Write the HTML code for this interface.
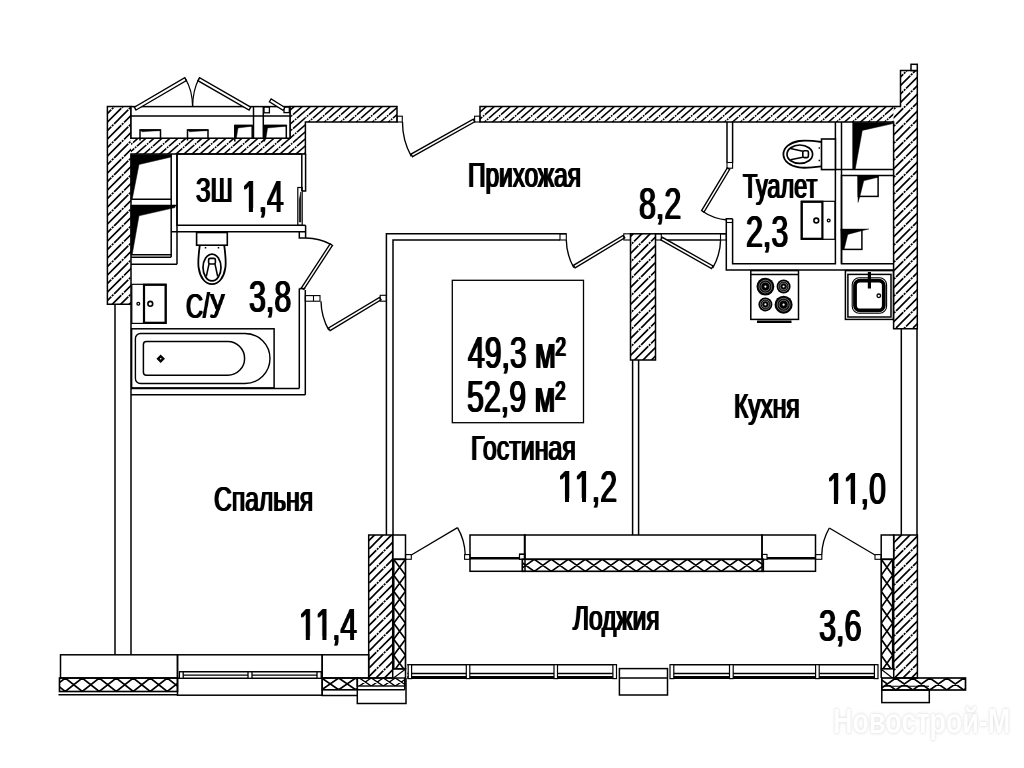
<!DOCTYPE html>
<html lang="ru"><head><meta charset="utf-8"><title>План квартиры</title>
<style>
html,body{margin:0;padding:0;background:#fff;}
body{width:1024px;height:768px;overflow:hidden;font-family:"Liberation Sans",sans-serif;}
svg{display:block}
svg text{font-family:"Liberation Sans",sans-serif;fill:#000;stroke:none}

.t{position:absolute;will-change:transform;transform-origin:0 0;line-height:1;white-space:nowrap;color:#000;}
.l{font-size:35.5px;text-shadow:1.2px 0 0 #000,-1.2px 0 0 #000;}
.n{font-size:44.5px;font-kerning:none;text-shadow:1.2px 0 0 #000,-1.2px 0 0 #000;}
.n i{position:absolute;top:0.735em;height:0.13em;width:0.187em;background:#fff;}
.wm{font-size:35.5px;font-weight:bold;color:#fff;text-shadow:0 0 2px #d8d8d8,0 0 4px #e6e6e6;}
</style></head><body><div id="plan" style="position:relative;width:1024px;height:768px;overflow:hidden">
<svg width="1024" height="768" viewBox="0 0 1024 768" stroke="#000" fill="none" stroke-linecap="butt" stroke-linejoin="miter">
<defs>
<pattern id="h" patternUnits="userSpaceOnUse" width="16" height="14">
<rect width="16" height="14" fill="#fff" stroke="none"/>
<path d="M-1,7.875 L9,-0.875 M-1,14.875 L17,-0.875 M7,14.875 L17,6.125 M-1,0.875 L1,-0.875 M15,14.875 L17,13.125" stroke="#000" stroke-width="1.6"/>
<path d="M2.26,5.02 L3.02,4.36 M4.26,3.27 L5.02,2.61 M6.26,8.52 L7.02,7.86 M8.26,6.77 L9.02,6.11" stroke="#fff" stroke-width="2.6"/>
</pattern>
<pattern id="h2" patternUnits="userSpaceOnUse" width="17" height="17">
<rect width="17" height="17" fill="#fff" stroke="none"/>
<path d="M-1,9.5 L9.5,-1 M-1,18 L18,-1 M7.5,18 L18,7.5 M-1,1 L1,-1 M16,18 L18,16" stroke="#000" stroke-width="1.6"/>
<path d="M2.25,6.25 L2.95,5.55 M4.35,4.15 L5.05,3.45 M9.25,7.75 L9.95,7.05 M11.35,5.65 L12.05,4.95" stroke="#fff" stroke-width="2.6"/>
</pattern>
</defs>
<rect width="1024" height="768" fill="#fff" stroke="none"/>
<rect x="107.4" y="106.6" width="23.60" height="197.70" fill="url(#h2)" stroke="none"/>
<rect x="131" y="138.2" width="174.40" height="15.80" fill="url(#h)" stroke="none"/>
<rect x="290" y="106.6" width="15.40" height="31.60" fill="url(#h)" stroke="none"/>
<rect x="305.4" y="106.6" width="91.60" height="15.40" fill="url(#h)" stroke="none"/>
<rect x="480" y="106.6" width="413.60" height="15.40" fill="url(#h)" stroke="none"/>
<polygon points="893.6,106.6 900.5,106.6 900.5,70.5 917.3,70.5 917.3,328.8 893.6,328.8" fill="url(#h2)" stroke="none"/>
<polygon points="107.4,106.6 131,106.6 131,138.2 290,138.2 290,106.6 397,106.6 397,122 305.4,122 305.4,154 131,154 131,304.3 107.4,304.3" fill="none" stroke-width="1.5" />
<polygon points="480,106.6 900.5,106.6 900.5,70.5 917.3,70.5 917.3,328.8 893.6,328.8 893.6,122 480,122" fill="none" stroke-width="1.5" />
<rect x="630.5" y="233.8" width="25.00" height="126.20" fill="url(#h2)" stroke-width="1.5" />
<rect x="368.7" y="535" width="24.00" height="143.00" fill="url(#h2)" stroke-width="1.5" />
<rect x="893.7" y="535" width="23.70" height="143.00" fill="url(#h2)" stroke-width="1.5" />
<rect x="911" y="64.3" width="6.30" height="6.20" fill="#fff" stroke-width="1.5" />
<rect x="131" y="106.6" width="159.00" height="31.60" fill="#fff" stroke-width="1.5" />
<line x1="131" y1="116" x2="290" y2="116" stroke-width="1.5" />
<line x1="253.5" y1="107" x2="253.5" y2="138.2" stroke-width="1.5" />
<line x1="263.3" y1="107" x2="263.3" y2="138.2" stroke-width="1.5" />
<polyline points="140,140.5 140,130 160.5,130 160.5,138.2" fill="none" stroke-width="1.5" />
<polygon points="140,129.6 160.5,129.6 160.5,130.6 142,131.8" fill="#000" stroke-width="0.4" />
<polyline points="187.5,140.5 187.5,130 208,130 208,138.2" fill="none" stroke-width="1.5" />
<polygon points="187.5,129.6 208,129.6 208,130.6 189.5,131.8" fill="#000" stroke-width="0.4" />
<polyline points="234.8,141.5 234.8,125.5 252.2,125.5 252.2,138.2" fill="none" stroke-width="1.5" />
<polygon points="234.8,125 252.2,125 252.2,126.2 238.0,128 236.4,138 234.8,138" fill="#000" stroke-width="0.4" />
<polyline points="264.4,141.5 264.4,125.5 286.3,125.5 286.3,138.2" fill="none" stroke-width="1.5" />
<polygon points="264.4,125 286.3,125 286.3,126.2 267.59999999999997,128 266.0,138 264.4,138" fill="#000" stroke-width="0.4" />
<rect x="264" y="107" width="5.40" height="5.80" fill="none" stroke-width="1.3" />
<rect x="284" y="107" width="5.30" height="5.60" fill="none" stroke-width="1.3" />
<polygon points="136.03,110.03 186.43,80.63 184.77,77.77 134.37,107.17" fill="#fff" stroke-width="1.35" />
<polygon points="250.72,107.17 199.52,77.77 197.88,80.63 249.08,110.03" fill="#fff" stroke-width="1.35" />
<path d="M185.3,78.6 Q192.5,90 192.6,107" fill="none" stroke-width="1.2" />
<path d="M199,78.6 Q192.8,90 192.6,107" fill="none" stroke-width="1.2" />
<polygon points="284.88,107.5 271.18,98.9 269.42,101.7 283.12,110.3" fill="#fff" stroke-width="1.35" />
<line x1="171.2" y1="154" x2="171.2" y2="257" stroke-width="1.5" />
<line x1="177" y1="154" x2="177" y2="264.3" stroke-width="1.5" />
<polygon points="130.8,154.6 171.2,154.6 171.2,157 139,164.5 132.2,199.2 130.8,199.2" fill="#000" stroke-width="0.5" />
<line x1="131" y1="199.3" x2="171.2" y2="199.3" stroke-width="1.5" />
<line x1="131" y1="205.6" x2="177" y2="205.6" stroke-width="1.5" />
<polygon points="130.8,205.6 175,205.6 175,207.6 139,215.8 132.2,254.5 130.8,254.5" fill="#000" stroke-width="0.5" />
<line x1="131" y1="254.7" x2="171.2" y2="254.7" stroke-width="1.5" />
<line x1="131" y1="257.2" x2="171.2" y2="257.2" stroke-width="1.5" />
<line x1="131" y1="264.3" x2="177" y2="264.3" stroke-width="1.5" />
<polyline points="301.8,190.9 301.8,154 177,154 177,225.3 297.8,225.3" fill="none" stroke-width="1.5" />
<polyline points="305.6,154 305.6,190.9 301.8,190.9" fill="none" stroke-width="1.5" />
<line x1="171.2" y1="231.8" x2="305.6" y2="231.8" stroke-width="1.5" />
<line x1="297.8" y1="225.3" x2="305.6" y2="225.3" stroke-width="1.5" />
<line x1="305.6" y1="225.3" x2="305.6" y2="238" stroke-width="1.5" />
<rect x="297.8" y="187.5" width="4.40" height="37.80" fill="none" stroke-width="1.2" />
<polygon points="300.8,192 299.3,200 299.3,222 300.8,222" fill="#000" stroke-width="0.6" />
<polyline points="299.3,231.8 299.3,238 305.6,238" fill="none" stroke-width="1.5" />
<path d="M305.2,238 A52,52 0 0 1 331.3,244.6" fill="none" stroke-width="1.35" />
<polygon points="303.77,289.36 332.47,245.36 330.13,243.84 301.43,287.84" fill="#fff" stroke-width="1.35" />
<line x1="299.3" y1="288.6" x2="299.3" y2="388.4" stroke-width="1.5" />
<line x1="305.3" y1="290" x2="305.3" y2="394.8" stroke-width="1.5" />
<line x1="299.3" y1="288.6" x2="305.3" y2="288.6" stroke-width="1.5" />
<line x1="131" y1="388.4" x2="299.3" y2="388.4" stroke-width="1.5" />
<line x1="131" y1="394.8" x2="305.3" y2="394.8" stroke-width="1.5" />
<line x1="115" y1="304.3" x2="115" y2="654.8" stroke-width="1.5" />
<line x1="131" y1="304.3" x2="131" y2="654.8" stroke-width="1.5" />
<rect x="196.6" y="232.5" width="30.70" height="12.70" fill="#fff" stroke-width="1.6" />
<path d="M199.8,245.2 C198.5,255 197.6,262 198.7,268 C200,277 205,284.2 212,284.2 C219,284.2 224,277 225.3,268 C226.4,262 225.5,255 224.2,245.2" fill="none" stroke-width="1.8" />
<ellipse cx="212" cy="267.5" rx="9" ry="13.4" fill="none" stroke-width="1.7"/>
<rect x="208.6" y="258.4" width="6.80" height="5.60" fill="none" stroke-width="1.6" rx="1.5"/>
<polyline points="209,264 206.3,276.5" fill="none" stroke-width="1.5" />
<polyline points="215,264 217.7,276.5" fill="none" stroke-width="1.5" />
<line x1="205.5" y1="247" x2="205.5" y2="248.5" stroke-width="1.5" />
<line x1="218.5" y1="247" x2="218.5" y2="248.5" stroke-width="1.5" />
<rect x="131.8" y="284.3" width="34.20" height="39.10" fill="none" stroke-width="1.2" />
<rect x="144" y="284.8" width="21.60" height="38.00" fill="none" stroke-width="2.2" />
<circle cx="150.3" cy="303.8" r="2.4" fill="none" stroke-width="1.6"/>
<circle cx="138.3" cy="303.8" r="1.4" fill="none" stroke-width="1.3"/>
<rect x="131.6" y="328.8" width="142.50" height="59.10" fill="none" stroke-width="1.5" />
<path d="M140.4,333.5 H245 A25,25 0 0 1 245,383.5 H140.4 A5,5 0 0 1 135.4,378.5 V338.5 A5,5 0 0 1 140.4,333.5 Z" fill="none" stroke-width="1.4" />
<path d="M146.4,341.6 H227.8 A16.8,16.8 0 0 1 227.8,375.2 H146.4 A3,3 0 0 1 143.4,372.2 V344.6 A3,3 0 0 1 146.4,341.6 Z" fill="none" stroke-width="1.5" />
<polygon points="160.7,355.3 164.2,358.8 160.7,362.3 157.2,358.8" fill="#000" stroke-width="1.1" />
<circle cx="160.7" cy="358.8" r="0.8" fill="#fff" stroke-width="0"/>
<rect x="397" y="116.2" width="5.30" height="5.80" fill="none" stroke-width="1.1" />
<rect x="474.6" y="116.2" width="5.40" height="5.80" fill="none" stroke-width="1.1" />
<path d="M402.5,122 A70,70 0 0 0 411.3,156.3" fill="none" stroke-width="1.35" />
<polygon points="412.53,156.71 474.73,121.81 473.27,119.19 411.07,154.09" fill="#fff" stroke-width="1.35" />
<rect x="305.3" y="295.6" width="14.70" height="5.60" fill="none" stroke-width="1.1" />
<line x1="313.5" y1="295.6" x2="313.5" y2="301.2" stroke-width="1.1" />
<path d="M321,301.2 A62,62 0 0 0 328.8,330.2" fill="none" stroke-width="1.35" />
<polygon points="330.07,330.59 381.07,299.89 379.53,297.31 328.53,328.01" fill="#fff" stroke-width="1.35" />
<rect x="380.2" y="295.3" width="6.20" height="5.90" fill="none" stroke-width="1.1" />
<polyline points="386.4,535 386.4,233.8 566.3,233.8" fill="none" stroke-width="1.5" />
<polyline points="393,535 393,240 560,240" fill="none" stroke-width="1.5" />
<rect x="560" y="233.8" width="6.30" height="6.20" fill="none" stroke-width="1.1" />
<path d="M566.3,240 A58,58 0 0 0 573.8,267.6" fill="none" stroke-width="1.35" />
<polygon points="575.08,267.88 624.78,237.88 623.22,235.32 573.52,265.32" fill="#fff" stroke-width="1.35" />
<rect x="623.8" y="233.8" width="6.70" height="6.20" fill="none" stroke-width="1.1" />
<line x1="632.6" y1="360" x2="632.6" y2="535" stroke-width="1.5" />
<line x1="638.6" y1="360" x2="638.6" y2="535" stroke-width="1.5" />
<rect x="452.3" y="280.3" width="131.20" height="142.40" fill="none" stroke-width="1.3" />
<rect x="655.5" y="233.8" width="5.80" height="6.20" fill="none" stroke-width="1.1" />
<line x1="655.5" y1="233.8" x2="726.3" y2="233.8" stroke-width="1.5" />
<line x1="661.3" y1="240" x2="720.5" y2="240" stroke-width="1.5" />
<polygon points="660.76,239.91 711.56,268.51 713.04,265.89 662.24,237.29" fill="#fff" stroke-width="1.35" />
<path d="M712.8,267.8 A58,58 0 0 0 720.6,240" fill="none" stroke-width="1.35" />
<rect x="720.5" y="233.8" width="5.80" height="6.20" fill="none" stroke-width="1.1" />
<line x1="727" y1="122" x2="727" y2="162.5" stroke-width="1.5" />
<line x1="732.6" y1="122" x2="732.6" y2="162.5" stroke-width="1.5" />
<rect x="727" y="162.5" width="5.60" height="5.70" fill="none" stroke-width="1.1" />
<polygon points="727.3,167.88 701.6,210.58 704.0,212.02 729.7,169.32" fill="#fff" stroke-width="1.35" />
<path d="M702.5,211.3 A50,50 0 0 0 727,220" fill="none" stroke-width="1.35" />
<polyline points="726.3,233.8 726.3,218.8 732.6,218.8" fill="none" stroke-width="1.5" />
<line x1="726.3" y1="222.5" x2="732.6" y2="222.5" stroke-width="1.1" />
<polyline points="732.6,218.8 732.6,263.8 835.4,263.8 835.4,122" fill="none" stroke-width="1.5" />
<polyline points="726.3,233.8 726.3,270 893.6,270" fill="none" stroke-width="1.5" />
<line x1="841.5" y1="122" x2="841.5" y2="263.8" stroke-width="1.5" />
<line x1="853.2" y1="122" x2="853.2" y2="169.6" stroke-width="1.5" />
<polygon points="853.2,122.4 892.8,122.4 892.8,123.6 862.3,130.4 855.2,169.2 853.2,169.2" fill="#000" stroke-width="0.5" />
<line x1="835.4" y1="169.6" x2="893.6" y2="169.6" stroke-width="1.5" />
<polyline points="893.6,175.5 841.5,175.5 841.5,263.8 893.6,263.8" fill="none" stroke-width="1.5" />
<rect x="858.3" y="176.6" width="19.80" height="19.80" fill="none" stroke-width="1.5" />
<polygon points="857.8,176.0 878.0999999999999,176.0 878.0999999999999,177.2 863.8,180.79999999999998 859.9,196.4 858.0,202.4" fill="#000" stroke-width="0.4" />
<rect x="842.3" y="229.8" width="19.60" height="19.60" fill="none" stroke-width="1.5" />
<polygon points="840.8,229.0 868.9,229.0 861.9,230.70000000000002 847.8,234.4 844.0999999999999,249.4 841.8,249.4" fill="#000" stroke-width="0.4" />
<rect x="821.5" y="139" width="13.90" height="30.60" fill="#fff" stroke-width="1.6" />
<path d="M821.5,142 C812,140.6 805,140 799,141 C790,142.5 783.4,147.5 783.4,154.2 C783.4,161 790,166 799,167.4 C805,168.3 812,167.6 821.5,166.4" fill="none" stroke-width="1.8" />
<ellipse cx="799.8" cy="154.2" rx="12.8" ry="9.2" fill="none" stroke-width="1.7"/>
<rect x="802.8" y="150.8" width="5.60" height="6.80" fill="none" stroke-width="1.6" rx="1.5"/>
<polyline points="802.8,151.2 790.5,148.6" fill="none" stroke-width="1.5" />
<polyline points="802.8,157.2 790.5,159.8" fill="none" stroke-width="1.5" />
<line x1="818.6" y1="148" x2="820" y2="148" stroke-width="1.5" />
<line x1="818.6" y1="160.5" x2="820" y2="160.5" stroke-width="1.5" />
<rect x="801.3" y="201.3" width="33.70" height="38.00" fill="none" stroke-width="1.2" />
<rect x="801.8" y="201.8" width="20.60" height="37.00" fill="none" stroke-width="2.2" />
<circle cx="816.3" cy="220.5" r="2.4" fill="none" stroke-width="1.6"/>
<circle cx="828.7" cy="220.5" r="1.4" fill="none" stroke-width="1.3"/>
<rect x="750.8" y="270.6" width="47.70" height="48.80" fill="#fff" stroke-width="1.5" />
<line x1="750.8" y1="274.6" x2="798.5" y2="274.6" stroke-width="1.5" />
<line x1="757" y1="321.8" x2="791.5" y2="321.8" stroke-width="2.4" />
<circle cx="765.4" cy="286.6" r="8.9" fill="#000" stroke-width="0"/>
<circle cx="765.4" cy="286.6" r="6.41" fill="none" stroke="#fff" stroke-width="0.42"/>
<circle cx="765.4" cy="286.6" r="4.45" fill="none" stroke="#fff" stroke-width="0.42"/>
<circle cx="765.4" cy="286.6" r="1.1" fill="#fff" stroke="none"/>
<circle cx="783.6" cy="286.5" r="7" fill="#000" stroke-width="0"/>
<circle cx="783.6" cy="286.5" r="5.04" fill="none" stroke="#fff" stroke-width="0.42"/>
<circle cx="783.6" cy="286.5" r="3.50" fill="none" stroke="#fff" stroke-width="0.42"/>
<circle cx="783.6" cy="286.5" r="1.1" fill="#fff" stroke="none"/>
<circle cx="765.4" cy="304.4" r="7" fill="#000" stroke-width="0"/>
<circle cx="765.4" cy="304.4" r="5.04" fill="none" stroke="#fff" stroke-width="0.42"/>
<circle cx="765.4" cy="304.4" r="3.50" fill="none" stroke="#fff" stroke-width="0.42"/>
<circle cx="765.4" cy="304.4" r="1.1" fill="#fff" stroke="none"/>
<circle cx="783.6" cy="304.7" r="9" fill="#000" stroke-width="0"/>
<circle cx="783.6" cy="304.7" r="6.48" fill="none" stroke="#fff" stroke-width="0.42"/>
<circle cx="783.6" cy="304.7" r="4.50" fill="none" stroke="#fff" stroke-width="0.42"/>
<circle cx="783.6" cy="304.7" r="1.1" fill="#fff" stroke="none"/>
<rect x="845.4" y="270.6" width="48.00" height="48.80" fill="#fff" stroke-width="1.5" />
<rect x="847.9" y="274.4" width="43.10" height="42.60" fill="none" stroke-width="1.5" />
<rect x="852.2" y="277.8" width="34.40" height="35.40" fill="none" stroke-width="1.1" rx="7"/>
<rect x="855" y="280.6" width="28.80" height="29.80" fill="none" stroke-width="3.8" rx="5"/>
<line x1="869.4" y1="272" x2="869.4" y2="288.5" stroke-width="3.2" />
<circle cx="878.8" cy="295.8" r="1.8" fill="none" stroke-width="1.3"/>
<line x1="901.3" y1="328.8" x2="901.3" y2="535" stroke-width="1.5" />
<line x1="917" y1="328.8" x2="917" y2="535" stroke-width="1.5" />
<rect x="392.7" y="535" width="12.80" height="24.30" fill="none" stroke-width="1.5" />
<clipPath id="c156"><rect x="393.7" y="559.3" width="11.80" height="109.50"/></clipPath>
<g clip-path="url(#c156)">
<path d="M393.7,559.30 L405.5,575.30 M405.5,559.30 L393.7,575.30 M393.7,575.30 L405.5,591.30 M405.5,575.30 L393.7,591.30 M393.7,591.30 L405.5,607.30 M405.5,591.30 L393.7,607.30 M393.7,607.30 L405.5,623.30 M405.5,607.30 L393.7,623.30 M393.7,623.30 L405.5,639.30 M405.5,623.30 L393.7,639.30 M393.7,639.30 L405.5,655.30 M405.5,639.30 L393.7,655.30 M393.7,655.30 L405.5,671.30 M405.5,655.30 L393.7,671.30 " fill="none" stroke-width="1.65" />
</g>
<rect x="393.7" y="559.3" width="11.80" height="109.50" fill="none" stroke-width="1.65" />
<rect x="405.5" y="554.6" width="5.80" height="4.70" fill="none" stroke-width="1.1" />
<line x1="411.3" y1="555" x2="457.5" y2="527.6" stroke-width="1.3" />
<path d="M457.5,527.6 A56,56 0 0 1 465.2,554.6" fill="none" stroke-width="1.35" />
<rect x="464.6" y="554.6" width="5.40" height="4.70" fill="none" stroke-width="1.1" />
<rect x="470" y="535" width="55.00" height="36.30" fill="none" stroke-width="1.5" />
<line x1="470" y1="558.2" x2="520" y2="558.2" stroke-width="2.4" />
<rect x="519.5" y="554" width="5.50" height="5.30" fill="none" stroke-width="1.1" />
<rect x="524.5" y="535" width="237.50" height="24.30" fill="none" stroke-width="1.5" />
<clipPath id="c169"><rect x="522.3" y="559.3" width="241.00" height="12.00"/></clipPath>
<g clip-path="url(#c169)">
<path d="M517.30,559.3 L534.30,571.3 M517.30,571.3 L534.30,559.3 M534.30,559.3 L551.30,571.3 M534.30,571.3 L551.30,559.3 M551.30,559.3 L568.30,571.3 M551.30,571.3 L568.30,559.3 M568.30,559.3 L585.30,571.3 M568.30,571.3 L585.30,559.3 M585.30,559.3 L602.30,571.3 M585.30,571.3 L602.30,559.3 M602.30,559.3 L619.30,571.3 M602.30,571.3 L619.30,559.3 M619.30,559.3 L636.30,571.3 M619.30,571.3 L636.30,559.3 M636.30,559.3 L653.30,571.3 M636.30,571.3 L653.30,559.3 M653.30,559.3 L670.30,571.3 M653.30,571.3 L670.30,559.3 M670.30,559.3 L687.30,571.3 M670.30,571.3 L687.30,559.3 M687.30,559.3 L704.30,571.3 M687.30,571.3 L704.30,559.3 M704.30,559.3 L721.30,571.3 M704.30,571.3 L721.30,559.3 M721.30,559.3 L738.30,571.3 M721.30,571.3 L738.30,559.3 M738.30,559.3 L755.30,571.3 M738.30,571.3 L755.30,559.3 M755.30,559.3 L772.30,571.3 M755.30,571.3 L772.30,559.3 " fill="none" stroke-width="1.65" />
</g>
<rect x="522.3" y="559.3" width="241.00" height="12.00" fill="none" stroke-width="1.65" />
<rect x="519.5" y="554.4" width="5.00" height="4.90" fill="none" stroke-width="1.1" />
<rect x="762" y="554.4" width="5.00" height="4.90" fill="none" stroke-width="1.1" />
<rect x="762" y="535" width="53.50" height="36.30" fill="none" stroke-width="1.5" />
<line x1="767" y1="558.2" x2="815.5" y2="558.2" stroke-width="2.4" />
<rect x="815.5" y="554.6" width="6.30" height="4.70" fill="none" stroke-width="1.1" />
<path d="M829.3,528 A56,56 0 0 0 821.8,554.6" fill="none" stroke-width="1.35" />
<line x1="875" y1="555" x2="829.3" y2="528" stroke-width="1.3" />
<rect x="875" y="554.6" width="6.20" height="4.70" fill="none" stroke-width="1.1" />
<rect x="881.2" y="535" width="12.50" height="24.30" fill="none" stroke-width="1.5" />
<clipPath id="c183"><rect x="881.2" y="559.3" width="11.50" height="109.50"/></clipPath>
<g clip-path="url(#c183)">
<path d="M881.2,559.30 L892.7,575.30 M892.7,559.30 L881.2,575.30 M881.2,575.30 L892.7,591.30 M892.7,575.30 L881.2,591.30 M881.2,591.30 L892.7,607.30 M892.7,591.30 L881.2,607.30 M881.2,607.30 L892.7,623.30 M892.7,607.30 L881.2,623.30 M881.2,623.30 L892.7,639.30 M892.7,623.30 L881.2,639.30 M881.2,639.30 L892.7,655.30 M892.7,639.30 L881.2,655.30 M881.2,655.30 L892.7,671.30 M892.7,655.30 L881.2,671.30 " fill="none" stroke-width="1.65" />
</g>
<rect x="881.2" y="559.3" width="11.50" height="109.50" fill="none" stroke-width="1.65" />
<rect x="60.5" y="654.8" width="117.00" height="23.20" fill="none" stroke-width="1.5" />
<clipPath id="c189"><rect x="59.5" y="678" width="118.00" height="13.50"/></clipPath>
<g clip-path="url(#c189)">
<path d="M48.25,678 L65.25,691.5 M48.25,691.5 L65.25,678 M65.25,678 L82.25,691.5 M65.25,691.5 L82.25,678 M82.25,678 L99.25,691.5 M82.25,691.5 L99.25,678 M99.25,678 L116.25,691.5 M99.25,691.5 L116.25,678 M116.25,678 L133.25,691.5 M116.25,691.5 L133.25,678 M133.25,678 L150.25,691.5 M133.25,691.5 L150.25,678 M150.25,678 L167.25,691.5 M150.25,691.5 L167.25,678 M167.25,678 L184.25,691.5 M167.25,691.5 L184.25,678 " fill="none" stroke-width="1.65" />
</g>
<rect x="59.5" y="678" width="118.00" height="13.50" fill="none" stroke-width="1.65" />
<line x1="58.5" y1="694.8" x2="177.5" y2="694.8" stroke-width="1.5" />
<rect x="177.5" y="654.8" width="144.70" height="40.40" fill="none" stroke-width="1.5" />
<line x1="179" y1="671.8" x2="322.2" y2="671.8" stroke-width="1.5" />
<line x1="180" y1="675.2" x2="319" y2="675.2" stroke-width="1.2" />
<line x1="177.5" y1="678.3" x2="322.2" y2="678.3" stroke-width="1.5" />
<rect x="179.4" y="671.8" width="3.80" height="6.50" fill="#fff" stroke-width="1.3" />
<rect x="248" y="671.8" width="4.00" height="6.50" fill="#fff" stroke-width="1.3" />
<rect x="317" y="671.8" width="4.20" height="6.50" fill="#fff" stroke-width="1.3" />
<rect x="322.2" y="654.8" width="46.50" height="23.20" fill="none" stroke-width="1.5" />
<clipPath id="c203"><rect x="322.2" y="678" width="35.10" height="11.80"/></clipPath>
<g clip-path="url(#c203)">
<path d="M321.70,678 L338.70,689.8 M321.70,689.8 L338.70,678 M338.70,678 L355.70,689.8 M338.70,689.8 L355.70,678 M355.70,678 L372.70,689.8 M355.70,689.8 L372.70,678 " fill="none" stroke-width="1.65" />
</g>
<rect x="322.2" y="678" width="35.10" height="11.80" fill="none" stroke-width="1.65" />
<clipPath id="c208"><rect x="357.3" y="678" width="47.50" height="8.00"/></clipPath>
<g clip-path="url(#c208)">
<path d="M359.30,678 L371.30,686 M359.30,686 L371.30,678 M371.30,678 L383.30,686 M371.30,686 L383.30,678 M383.30,678 L395.30,686 M383.30,686 L395.30,678 M395.30,678 L407.30,686 M395.30,686 L407.30,678 " fill="none" stroke-width="1.4" />
</g>
<rect x="357.3" y="678" width="47.50" height="8.00" fill="none" stroke-width="1.4" />
<line x1="357.3" y1="689.8" x2="404.8" y2="689.8" stroke-width="1.5" />
<line x1="404.8" y1="678" x2="404.8" y2="689.8" stroke-width="1.5" />
<polyline points="322.2,689.8 322.2,695.4 357.3,695.4 357.3,703.6 406,703.6 406,678" fill="none" stroke-width="1.5" />
<line x1="357.3" y1="689.8" x2="357.3" y2="695.4" stroke-width="1.5" />
<polyline points="392.7,668.8 405.5,668.8 405.5,678" fill="none" stroke-width="1.5" />
<line x1="393.5" y1="678" x2="405" y2="669.5" stroke-width="1.1" />
<line x1="407.3" y1="664.7" x2="616.5" y2="664.7" stroke-width="1.5" />
<line x1="407.3" y1="673.5" x2="616.5" y2="673.5" stroke-width="1.4" />
<line x1="407.3" y1="677.4" x2="616.5" y2="677.4" stroke-width="3" />
<rect x="408.2" y="664.7" width="3.40" height="13.90" fill="#fff" stroke-width="1.2" />
<rect x="466.3" y="664.7" width="3.50" height="13.90" fill="#fff" stroke-width="1.2" />
<rect x="554" y="664.7" width="3.50" height="13.90" fill="#fff" stroke-width="1.2" />
<rect x="612.9" y="664.7" width="3.60" height="13.90" fill="#fff" stroke-width="1.2" />
<line x1="670" y1="664.7" x2="878" y2="664.7" stroke-width="1.5" />
<line x1="670" y1="673.5" x2="878" y2="673.5" stroke-width="1.4" />
<line x1="670" y1="677.4" x2="878" y2="677.4" stroke-width="3" />
<rect x="670" y="664.7" width="3.80" height="13.90" fill="#fff" stroke-width="1.2" />
<rect x="729.5" y="664.7" width="3.70" height="13.90" fill="#fff" stroke-width="1.2" />
<rect x="815.6" y="664.7" width="3.60" height="13.90" fill="#fff" stroke-width="1.2" />
<rect x="874.4" y="664.7" width="3.60" height="13.90" fill="#fff" stroke-width="1.2" />
<rect x="619.4" y="668.6" width="48.10" height="26.40" fill="none" stroke-width="1.5" />
<line x1="619.4" y1="678" x2="667.5" y2="678" stroke-width="1.5" />
<line x1="881.2" y1="668.8" x2="881.2" y2="678" stroke-width="1.5" />
<line x1="881.5" y1="669.5" x2="892.5" y2="678" stroke-width="1.1" />
<clipPath id="c237"><rect x="881.8" y="678" width="83.70" height="12.00"/></clipPath>
<g clip-path="url(#c237)">
<path d="M878.80,678 L895.80,690 M878.80,690 L895.80,678 M895.80,678 L912.80,690 M895.80,690 L912.80,678 M912.80,678 L929.80,690 M912.80,690 L929.80,678 M929.80,678 L946.80,690 M929.80,690 L946.80,678 M946.80,678 L963.80,690 M946.80,690 L963.80,678 M963.80,678 L980.80,690 M963.80,690 L980.80,678 " fill="none" stroke-width="1.65" />
</g>
<rect x="881.8" y="678" width="83.70" height="12.00" fill="none" stroke-width="1.65" />
<rect x="881.8" y="690" width="47.50" height="12.60" fill="none" stroke-width="1.5" />
<line x1="881.8" y1="686.3" x2="929" y2="686.3" stroke-width="1.1" />
</svg>
<div class="t l" style="left:196.41px;top:172.9px;transform:scaleX(0.6794)">ЗШ</div>
<div class="t n" style="left:241.76px;top:174.6px;transform:scaleX(0.6732)">1,4<i style="left:0.0375em"></i><i style="left:0.3668em"></i></div>
<div class="t l" style="left:186.11px;top:289.1px;transform:scaleX(0.6629)">С/У</div>
<div class="t n" style="left:249.24px;top:274.75px;transform:scaleX(0.6819)">3,8</div>
<div class="t l" style="left:467.53px;top:158.0px;transform:scaleX(0.686)">Прихожая</div>
<div class="t n" style="left:639.24px;top:181.6px;transform:scaleX(0.6819)">8,2</div>
<div class="t l" style="left:214.45px;top:481.5px;transform:scaleX(0.6943)">Спальня</div>
<div class="t l" style="left:742.68px;top:168.5px;transform:scaleX(0.6605)">Туалет</div>
<div class="t n" style="left:745.74px;top:210.35px;transform:scaleX(0.6819)">2,3</div>
<div class="t l" style="left:733.77px;top:388.5px;transform:scaleX(0.6897)">Кухня</div>
<div class="t n" style="left:826.88px;top:466.6px;transform:scaleX(0.6796)">11,0<i style="left:0.0375em"></i><i style="left:0.3668em"></i><i style="left:0.5937em"></i><i style="left:0.9230em"></i></div>
<div class="t n" style="left:467.67px;top:330.85px;transform:scaleX(0.6769)">49,3 м²</div>
<div class="t n" style="left:466.99px;top:374.85px;transform:scaleX(0.6817)">52,9 м²</div>
<div class="t l" style="left:470.73px;top:431.0px;transform:scaleX(0.7036)">Гостиная</div>
<div class="t n" style="left:558.12px;top:465.35px;transform:scaleX(0.6819)">11,2<i style="left:0.0375em"></i><i style="left:0.3668em"></i><i style="left:0.5937em"></i><i style="left:0.9230em"></i></div>
<div class="t n" style="left:299.17px;top:602.6px;transform:scaleX(0.6691)">11,4<i style="left:0.0375em"></i><i style="left:0.3668em"></i><i style="left:0.5937em"></i><i style="left:0.9230em"></i></div>
<div class="t l" style="left:572.84px;top:601.0px;transform:scaleX(0.6876)">Лоджия</div>
<div class="t n" style="left:819.23px;top:604.1px;transform:scaleX(0.6862)">3,6</div>
<div class="t wm" style="left:833.2px;top:704.25px;transform:scaleX(0.759)">Новострой-М</div>
</div></body></html>
